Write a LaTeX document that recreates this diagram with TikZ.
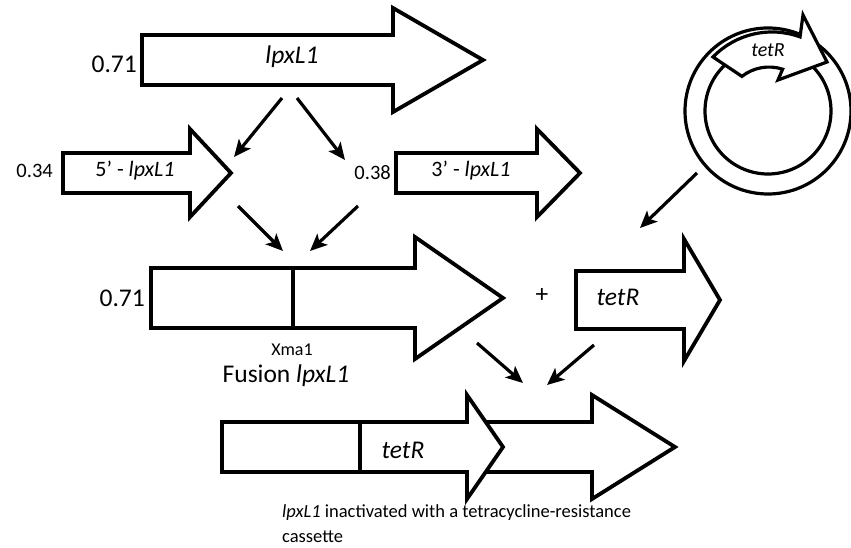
\documentclass[tikz,border=0pt]{standalone}
\usepackage{fontspec}
\setmainfont{Carlito}
\usetikzlibrary{arrows.meta}
% #1 left x, #2 mid y, #3 shaft end x, #4 tip x, #5 shaft half height, #6 head half height
\newcommand\genearrow[6]{%
  \draw[gene] (#1,#2-#5) -- (#3,#2-#5) -- (#3,#2-#6) -- (#4,#2) -- (#3,#2+#6) -- (#3,#2+#5) -- (#1,#2+#5) -- cycle;}
\begin{document}
\begin{tikzpicture}[x=1pt,y=-1pt,
  gene/.style={draw=black,line width=3.8pt,fill=white,line join=miter},
  conn/.style={line width=3.2pt,-{Stealth[length=17pt,width=15pt,inset=4pt]}},
  lbig/.style={font=\fontsize{25.5}{30}\selectfont,inner sep=0pt,anchor=base},
  lmid/.style={font=\fontsize{22}{26}\selectfont,inner sep=0pt,anchor=base},
  lsmall/.style={font=\fontsize{20.5}{24}\selectfont,inner sep=0pt,anchor=base},
  ltiny/.style={font=\fontsize{18}{21}\selectfont,inner sep=0pt,anchor=base},
  lcap/.style={font=\fontsize{18.5}{25}\selectfont,inner sep=0pt,anchor=base west,align=left}]
\useasboundingbox (0,0) rectangle (851,548);

% plasmid
\draw[line width=3.2pt] (768,111) circle[radius=83];
\draw[line width=3.2pt] (768,111) circle[radius=63];
\draw[gene,line width=3.2pt] (713,57) arc[start angle=-136,end angle=-70,radius=82]
  -- (803,15) -- (827,62) -- (778,80) -- (782.6,69.2)
  arc[start angle=-72,end angle=-128,radius=44] -- cycle;
\node[lsmall,font=\fontsize{20}{24}\selectfont\itshape] (ptet) at (768,57) {tetR};

% top arrow
\genearrow{142}{60}{393}{483}{25}{52}
\node[lbig] (t1) at (292,64) {\textit{lpxL1}};
\node[lbig,anchor=base east] (n1) at (137,73) {0.71};

% 5' and 3'
\genearrow{63}{173}{190}{231}{20}{44}
\node[lmid] (t2) at (135,177) {5’ - \textit{lpxL1}};
\node[lsmall,anchor=base east] (n2) at (53,178) {0.34};
\genearrow{396}{173}{537}{580}{20}{44}
\node[lmid] (t3) at (471,177) {3’ - \textit{lpxL1}};
\node[lsmall,anchor=base east] (n3) at (391,180) {0.38};

% fusion
\genearrow{151}{298}{415}{503}{30}{61}
\draw[line width=3.8pt] (293,268) -- (293,328);
\node[lbig,anchor=base east] (n4) at (145,306) {0.71};
\node[ltiny] (xma) at (292,355) {Xma1};
\node[lbig] (fus) at (286,382) {Fusion \textit{lpxL1}};
\node[lbig] (plus) at (542,302) {+};

% tetR
\genearrow{576}{300}{684}{720}{29}{61}
\node[lbig] (t5) at (618,305) {\textit{tetR}};

% bottom
\genearrow{470}{447}{592}{675}{25}{52}
\genearrow{222}{447}{467}{503}{25}{52}
\draw[line width=3.8pt] (360,422) -- (360,472);
\node[lbig] (t6) at (403,458) {\textit{tetR}};
\node[lcap] (cap) at (282,542) {\textit{lpxL1} inactivated with a tetracycline-resistance\\cassette};

% connectors
\coordinate (c1s) at (282,98); \coordinate (c1e) at (234,157);
\coordinate (c2s) at (297,98); \coordinate (c2e) at (345,160);
\coordinate (c3s) at (238,206); \coordinate (c3e) at (283,251);
\coordinate (c4s) at (358,206); \coordinate (c4e) at (310,251);
\coordinate (c5s) at (477,343); \coordinate (c5e) at (523,383);
\coordinate (c6s) at (594,345); \coordinate (c6e) at (547,385);
\coordinate (c7s) at (697,173); \coordinate (c7e) at (640,228);
\foreach \s/\e in {c1s/c1e,c2s/c2e,c3s/c3e,c4s/c4e,c5s/c5e,c6s/c6e,c7s/c7e}
  \draw[conn] (\s) -- (\e);
\end{tikzpicture}
\end{document}
